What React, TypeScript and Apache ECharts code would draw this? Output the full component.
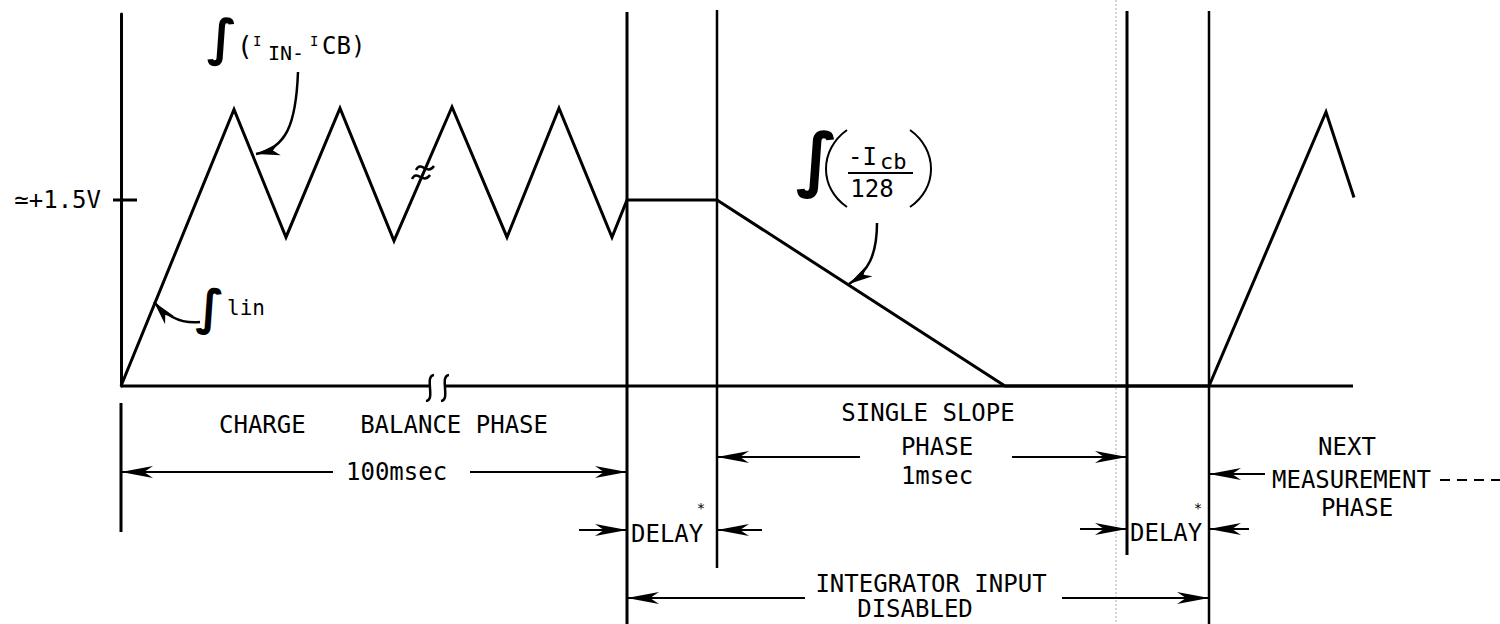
import { useEffect, useRef } from "react";
import * as echarts from "echarts";

// Integrator output voltage against a time index along the diagram.
const waveTime = [0, 113, 165, 219, 273, 331, 386, 438, 491, 506, 596, 884, 1088, 1205, 1233];
const waveVolts = [0, 2.23, 1.2, 2.24, 1.17, 2.25, 1.2, 2.24, 1.2, 1.5, 1.5, 0, 0, 2.21, 1.52];

// Phase boundaries on the same time index:
// end of charge balance, end of first delay, end of single slope, end of second delay.
const phaseEdges = [506, 596, 1006, 1088];
const baselineEnd = 1232;

const referenceLevel = 1.5;
const referenceLabel = "≃+1.5V";

const chargeWords = ["CHARGE", "BALANCE PHASE"];
const chargeTime = "100msec";
const delayLabel = "DELAY";
const slopeLines = ["SINGLE SLOPE", "PHASE", "1msec"];
const disabledLines = ["INTEGRATOR INPUT", "DISABLED"];
const nextLines = ["NEXT", "MEASUREMENT", "PHASE"];

const FONT = '"DejaVu Sans Mono", monospace';
const INK = "#000";

export default function App() {
  const ref = useRef<HTMLDivElement>(null);

  useEffect(() => {
    const el = ref.current!;
    const chart = echarts.init(el, null, { renderer: "svg" });

    chart.setOption({
      animation: false,
      backgroundColor: "#fff",
      grid: { left: 121, right: 0, top: 14, bottom: 238 },
      xAxis: { type: "value", min: 0, max: 1379, show: false },
      yAxis: {
        type: "value",
        min: 0,
        max: 3,
        axisLine: { show: true, lineStyle: { color: INK, width: 3 } },
        axisTick: { show: false },
        axisLabel: { show: false },
        splitLine: { show: false },
      },
      series: [
        {
          type: "line",
          data: waveTime.map((t, i) => [t, waveVolts[i]]),
          symbol: "none",
          clip: false,
          lineStyle: { color: INK, width: 3, join: "miter" },
          z: 3,
        },
      ],
    });

    const X = (v: number) => chart.convertToPixel({ xAxisIndex: 0 }, v) as number;
    const Y = (v: number) => chart.convertToPixel({ yAxisIndex: 0 }, v) as number;

    const [eCB, eD1, eSS, eD2] = phaseEdges.map(X);
    const x0 = X(0);
    const y0 = Y(0);
    const yRef = Y(referenceLevel);
    const xEnd = X(baselineEnd);

    const els: any[] = [];

    const line = (x1: number, y1: number, x2: number, y2: number, w = 2, extra: any = {}) =>
      els.push({
        type: "line",
        silent: true,
        shape: { x1, y1, x2, y2 },
        style: { stroke: INK, lineWidth: w, ...extra },
      });

    const txt = (
      text: string, x: number, y: number, size = 24, align = "left", family = FONT, extra: any = {}
    ) =>
      els.push({
        type: "text",
        x,
        y,
        silent: true,
        style: {
          text,
          fill: INK,
          fontSize: size,
          fontFamily: family,
          textAlign: align,
          textVerticalAlign: "middle",
          align,
          verticalAlign: "middle",
          ...extra,
        },
      });

    // Slanted integral sign
    const integral = (x: number, y: number, size: number) =>
      txt("∫", x, y, size, "center", '"DejaVu Sans"', { fontWeight: "bold", fontStyle: "italic" });

    const head = (tx: number, ty: number, dx: number, dy: number, L = 32, w = 6) => {
      const n = Math.hypot(dx, dy);
      const ux = dx / n;
      const uy = dy / n;
      const nx = -uy;
      const ny = ux;
      els.push({
        type: "polygon",
        silent: true,
        shape: {
          points: [
            [tx, ty],
            [tx - ux * L + nx * w, ty - uy * L + ny * w],
            [tx - ux * L * 0.72, ty - uy * L * 0.72],
            [tx - ux * L - nx * w, ty - uy * L - ny * w],
          ],
        },
        style: { fill: INK },
        z: 5,
      });
    };

    const hArrow = (fromX: number, tipX: number, y: number) => {
      line(fromX, y, tipX, y, 2);
      head(tipX, y, tipX - fromX, 0);
    };

    const curve = (
      p0: number[], c1: number[], c2: number[], p3: number[], w = 2.5, arrow = false
    ) => {
      els.push({
        type: "bezierCurve",
        silent: true,
        shape: { x1: p0[0], y1: p0[1], cpx1: c1[0], cpy1: c1[1], cpx2: c2[0], cpy2: c2[1], x2: p3[0], y2: p3[1] },
        style: { stroke: INK, lineWidth: w, fill: "none" },
      });
      if (arrow) head(p3[0], p3[1], p3[0] - c2[0], p3[1] - c2[1], 24, 6);
    };

    // Reference level tick and label
    line(x0 - 8, yRef, x0 + 16, yRef, 3);
    txt(referenceLabel, x0 - 20, yRef, 24, "right");

    // Lower extension of the time axis marker
    line(x0, 403, x0, 532, 3);

    // Baseline with break symbol
    line(x0, y0, 431, y0, 3);
    line(445, y0, xEnd, y0, 3);
    curve([426, 401], [436, 400], [424, 376], [434, 375], 2.5);
    curve([441, 401], [451, 400], [439, 376], [449, 375], 2.5);

    // Break symbol on the ramp
    curve([416, 170], [421, 160], [427, 176], [434, 166], 2.5);
    curve([412, 179], [417, 169], [423, 185], [430, 175], 2.5);

    // Phase boundary lines
    line(eCB, 12, eCB, 624, 3);
    line(eD1, 10, eD1, 568, 2.5);
    line(eSS, 11, eSS, 555, 3);
    line(eD2, 11, eD2, 624, 2.5);
    line(eSS - 11, 0, eSS - 11, 624, 1, { stroke: "#aaa", lineDash: [2, 2] });

    // ∫(I IN - I CB) annotation
    integral(222, 38, 50);
    txt("(", 237, 46, 26);
    txt("I", 253, 41, 14);
    txt("IN-", 268, 53, 20);
    txt("I", 310, 41, 14);
    txt("CB)", 322, 46, 24);
    curve([298, 72], [296, 125], [286, 148], [256, 154], 2.5, true);

    // ∫Iin annotation
    integral(210, 307, 48);
    txt("lin", 227, 308, 21);
    curve([200, 322], [182, 324], [166, 316], [154, 302], 2.5, true);

    // ∫(-Icb/128) annotation
    integral(817, 159, 70);
    curve([847, 130], [819, 150], [819, 188], [847, 207], 2);
    curve([910, 130], [938, 150], [938, 188], [910, 207], 2);
    txt("-I", 848, 157, 24);
    txt("cb", 880, 161, 22);
    line(848, 173, 913, 173, 2);
    txt("128", 872, 189, 24, "center");
    curve([877, 223], [877, 255], [868, 272], [849, 284], 2.5, true);

    // Charge balance phase
    txt(chargeWords[0], 219, 425);
    txt(chargeWords[1], 548, 425, 24, "right");
    txt(chargeTime, 346, 472);
    hArrow(333, x0, 472);
    hArrow(470, eCB, 472);

    // First delay
    txt(delayLabel, eCB + 4, 534);
    txt("*", 701, 508, 14, "center");
    hArrow(579, eCB, 530);
    hArrow(762, eD1, 530);

    // Single slope phase
    txt(slopeLines[0], 928, 413, 24, "center");
    txt(slopeLines[1], 937, 447, 24, "center");
    txt(slopeLines[2], 937, 476, 24, "center");
    hArrow(860, eD1, 457);
    hArrow(1012, eSS, 457);

    // Second delay
    txt(delayLabel, eSS + 3, 533);
    txt("*", 1198, 508, 14, "center");
    hArrow(1080, eSS, 529);
    hArrow(1249, eD2, 529);

    // Integrator input disabled
    txt(disabledLines[0], 931, 584, 24, "center");
    txt(disabledLines[1], 915, 609, 24, "center");
    hArrow(805, eCB, 598);
    hArrow(1062, eD2, 598);

    // Next measurement phase
    txt(nextLines[0], 1347, 447, 24, "center");
    txt(nextLines[1], 1272, 480);
    txt(nextLines[2], 1357, 508, 24, "center");
    hArrow(1265, eD2, 474);
    line(1440, 480, 1500, 480, 2, { lineDash: [10, 7] });

    chart.setOption({ graphic: { elements: els } });

    return () => chart.dispose();
  }, []);

  return (
    <div
      ref={ref}
      style={{ position: "absolute", left: 0, top: 0, width: 1500, height: 624, background: "#fff" }}
    />
  );
}
